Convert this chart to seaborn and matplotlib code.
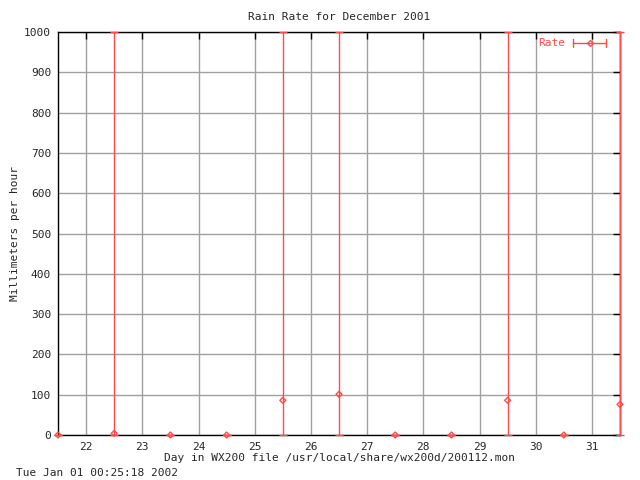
import numpy as np
import pandas as pd
import seaborn as sns
import matplotlib
matplotlib.use("Agg")
import matplotlib.pyplot as plt

# rain rate per half-day sample, with error bar limits
days = [21.5, 22.5, 23.5, 24.5, 25.5, 26.5, 27.5, 28.5, 29.5, 30.5, 31.5]
rate = [0, 4, 0, 0, 86, 101, 0, 0, 86, 0, 76]
rate_low = [0, 0, 0, 0, 0, 0, 0, 0, 0, 0, 0]
rate_high = [0, 1000, 0, 0, 1000, 1000, 0, 0, 1000, 0, 1000]

xticks = [22, 23, 24, 25, 26, 27, 28, 29, 30, 31]
yticks = [0, 100, 200, 300, 400, 500, 600, 700, 800, 900, 1000]

sns.set_theme(style="white")
plt.rcParams['font.family'] = ['DejaVu Sans Mono']
plt.rcParams['font.size'] = 8

red = "#ff4a4a"

df = pd.DataFrame({'day': days, 'rate': rate, 'low': rate_low, 'high': rate_high})

fig = plt.figure(figsize=(6.4, 4.8), dpi=100)
ax = fig.add_axes([58 / 640, 1 - 435 / 480, 562 / 640, 403 / 480])

ax.set_xlim(21.5, 31.5)
ax.set_ylim(0, 1000)
ax.set_xticks(xticks)
ax.set_yticks(yticks)
ax.grid(True, color="#a0a0a0", lw=1)
ax.set_axisbelow(True)

yerr = [df['rate'] - df['low'], df['high'] - df['rate']]
ax.errorbar(df['day'], df['rate'], yerr=yerr, fmt='none', ecolor=red,
            elinewidth=1, capsize=3, capthick=1, clip_on=False, zorder=3)
sns.scatterplot(data=df, x='day', y='rate', ax=ax, marker='D', s=9,
                facecolor='none', edgecolor=red, linewidth=1, zorder=4,
                clip_on=False)

for s in ax.spines.values():
    s.set_color('black')
    s.set_linewidth(1)
ax.tick_params(direction='in', length=5, width=1, color='black',
               top=True, right=True, labelsize=8, pad=5)

ax.set_xlabel("Day in WX200 file /usr/local/share/wx200d/200112.mon",
              fontsize=8, labelpad=1)
ax.set_ylabel("Millimeters per hour", fontsize=8, labelpad=3)
ax.set_title("Rain Rate for December 2001", fontsize=8, pad=9)

# gnuplot-style key
ax.text(0.902, 0.973, "Rate", color=red, transform=ax.transAxes,
        ha='right', va='center', fontsize=8)
ax.plot([0.916, 0.975], [0.973, 0.973], color=red, lw=1,
        transform=ax.transAxes)
ax.plot([0.916, 0.916], [0.963, 0.983], color=red, lw=1, transform=ax.transAxes)
ax.plot([0.975, 0.975], [0.963, 0.983], color=red, lw=1, transform=ax.transAxes)
ax.plot([0.947], [0.973], marker='D', ms=3, mfc='none', mec=red,
        transform=ax.transAxes)

fig.text(16 / 640, 1 - 473 / 480, "Tue Jan 01 00:25:18 2002",
         fontsize=8, va='center', ha='left')

fig.savefig("out.png", dpi=100)
